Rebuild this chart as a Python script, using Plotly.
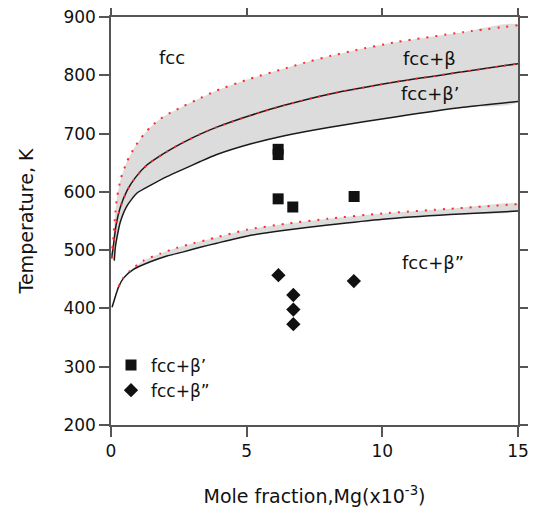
import plotly.graph_objects as go

# ---- data ----
# fcc / fcc+beta boundary (red dotted)
beta_x = [0.0, 0.03, 0.07, 0.1, 0.15, 0.22, 0.37, 0.59, 0.89, 1.2, 1.45, 1.81, 2.2, 2.67, 3.3, 3.9, 5.13, 6.35, 7.33, 8.07, 9.0, 10.53, 12.98, 15.0]
beta_y = [488, 498, 510, 530, 558, 590, 624, 652, 678, 698, 711, 725, 736, 747, 761, 774, 794, 811, 824, 833, 843, 857, 874, 886]

# fcc+beta / fcc+beta' boundary (solid black + red dotted)
betap_up_x = [0.02, 0.06, 0.1, 0.19, 0.34, 0.59, 0.89, 1.32, 1.88, 2.43, 2.67, 3.29, 3.9, 5.13, 6.35, 8.07, 10.53, 12.98, 15.0]
betap_up_y = [486, 498, 512, 544, 573, 602, 624, 646, 664, 679, 685, 699, 711, 731, 748, 768, 789, 806, 820]

# fcc+beta' lower boundary (solid black)
betap_lo_x = [0.12, 0.16, 0.22, 0.34, 0.59, 0.96, 1.45, 2.06, 2.67, 3.29, 3.9, 5.13, 6.35, 8.07, 10.53, 12.98, 15.0]
betap_lo_y = [482, 505, 522, 548, 576, 598, 611, 626, 639, 652, 664, 682, 696, 711, 729, 745, 755]

# fcc+beta'' upper boundary (red dotted)
betapp_up_x = [0.28, 0.46, 0.71, 1.2, 1.81, 2.43, 3.04, 3.65, 5.0, 6.41, 8.0, 10.02, 12.5, 15.0]
betapp_up_y = [437, 453, 465, 482, 494, 504, 512, 519, 535, 545, 554, 563, 571, 579]

# fcc+beta'' lower boundary (solid black)
betapp_lo_x = [0.04, 0.28, 0.46, 0.83, 1.45, 2.06, 2.67, 3.29, 3.9, 5.0, 6.41, 8.0, 10.02, 12.5, 15.0]
betapp_lo_y = [402, 437, 452, 467, 480, 490, 497, 505, 512, 524, 534, 543, 553, 561, 567]

# experimental points
sq_x = [6.16, 6.16, 6.16, 6.70, 8.96]
sq_y = [673, 664, 588, 574, 592]
dia_x = [6.17, 8.95, 6.72, 6.72, 6.72]
dia_y = [457, 447, 423, 398, 373]

# region labels
lab_text = ["fcc", "fcc+\u03b2", "fcc+\u03b2\u2019", "fcc+\u03b2\u201d"]
lab_x = [2.24, 11.75, 11.75, 11.87]
lab_y = [831, 829, 769, 478]

x_ticks = [0, 5, 10, 15]
y_ticks = [200, 300, 400, 500, 600, 700, 800, 900]

FONT = "DejaVu Sans"
AX = "#555555"
BLACK = "#1a1a1a"
RED = "#ff2a2a"
GRAY = "#dcdcdc"
DOTS = "2px,7px"
SHAPE = dict(shape="spline", smoothing=0.6)

fig = go.Figure()

# gray fills
fig.add_trace(go.Scatter(
    x=beta_x + betap_lo_x[::-1], y=beta_y + betap_lo_y[::-1],
    fill="toself", fillcolor=GRAY, line=dict(width=0, **SHAPE), mode="lines",
    hoverinfo="skip", showlegend=False))
fig.add_trace(go.Scatter(
    x=betapp_up_x + betapp_lo_x[::-1], y=betapp_up_y + betapp_lo_y[::-1],
    fill="toself", fillcolor=GRAY, line=dict(width=0, **SHAPE), mode="lines",
    hoverinfo="skip", showlegend=False))

# solid black curves
for xs, ys in [(betap_up_x, betap_up_y), (betap_lo_x, betap_lo_y), (betapp_lo_x, betapp_lo_y)]:
    fig.add_trace(go.Scatter(x=xs, y=ys, mode="lines",
                             line=dict(color=BLACK, width=1.5, **SHAPE),
                             showlegend=False, hoverinfo="skip"))

# red dotted curves
for xs, ys in [(beta_x, beta_y), (betap_up_x, betap_up_y), (betapp_up_x, betapp_up_y)]:
    fig.add_trace(go.Scatter(x=xs, y=ys, mode="lines",
                             line=dict(color=RED, width=2, dash=DOTS, **SHAPE),
                             showlegend=False, hoverinfo="skip"))

# experimental markers
fig.add_trace(go.Scatter(x=sq_x, y=sq_y, mode="markers", name="fcc+\u03b2\u2019",
                         marker=dict(symbol="square", size=11, color="#111111")))
fig.add_trace(go.Scatter(x=dia_x, y=dia_y, mode="markers", name="fcc+\u03b2\u201d",
                         marker=dict(symbol="diamond", size=11, color="#111111")))

for t, x, y in zip(lab_text, lab_x, lab_y):
    fig.add_annotation(x=x, y=y, text=t, showarrow=False,
                       font=dict(family=FONT, size=18, color="#111111"))

axis_common = dict(
    showline=True, linecolor=AX, linewidth=1.5, mirror="ticks",
    ticks="outside", ticklen=10, tickwidth=1.5, tickcolor=AX,
    showgrid=False, zeroline=False, automargin=False,
    ticklabeloverflow="allow",
    tickfont=dict(family=FONT, size=17, color="#111111"),
)

# the page body adds an 8px offset, so the figure is 8px smaller on each side
fig.update_layout(
    width=528, height=503,
    margin=dict(l=103, r=18, t=9, b=86, autoexpand=False),
    paper_bgcolor="white", plot_bgcolor="white",
    font=dict(family=FONT, color="#111111"),
    xaxis=dict(range=[0, 15], tickvals=x_ticks,
               title=dict(text="Mole fraction,Mg(x10<sup>-3</sup>)",
                          font=dict(family=FONT, size=19), standoff=30),
               **axis_common),
    yaxis=dict(range=[200, 900], tickvals=y_ticks,
               title=dict(text="Temperature, K",
                          font=dict(family=FONT, size=19), standoff=25),
               **axis_common),
    legend=dict(x=0.0, y=0.19, xanchor="left", yanchor="top",
                bgcolor="rgba(0,0,0,0)", borderwidth=0,
                font=dict(family=FONT, size=17, color="#111111"),
                tracegroupgap=0, itemwidth=30),
    showlegend=True,
)

fig.write_html("out.html")
